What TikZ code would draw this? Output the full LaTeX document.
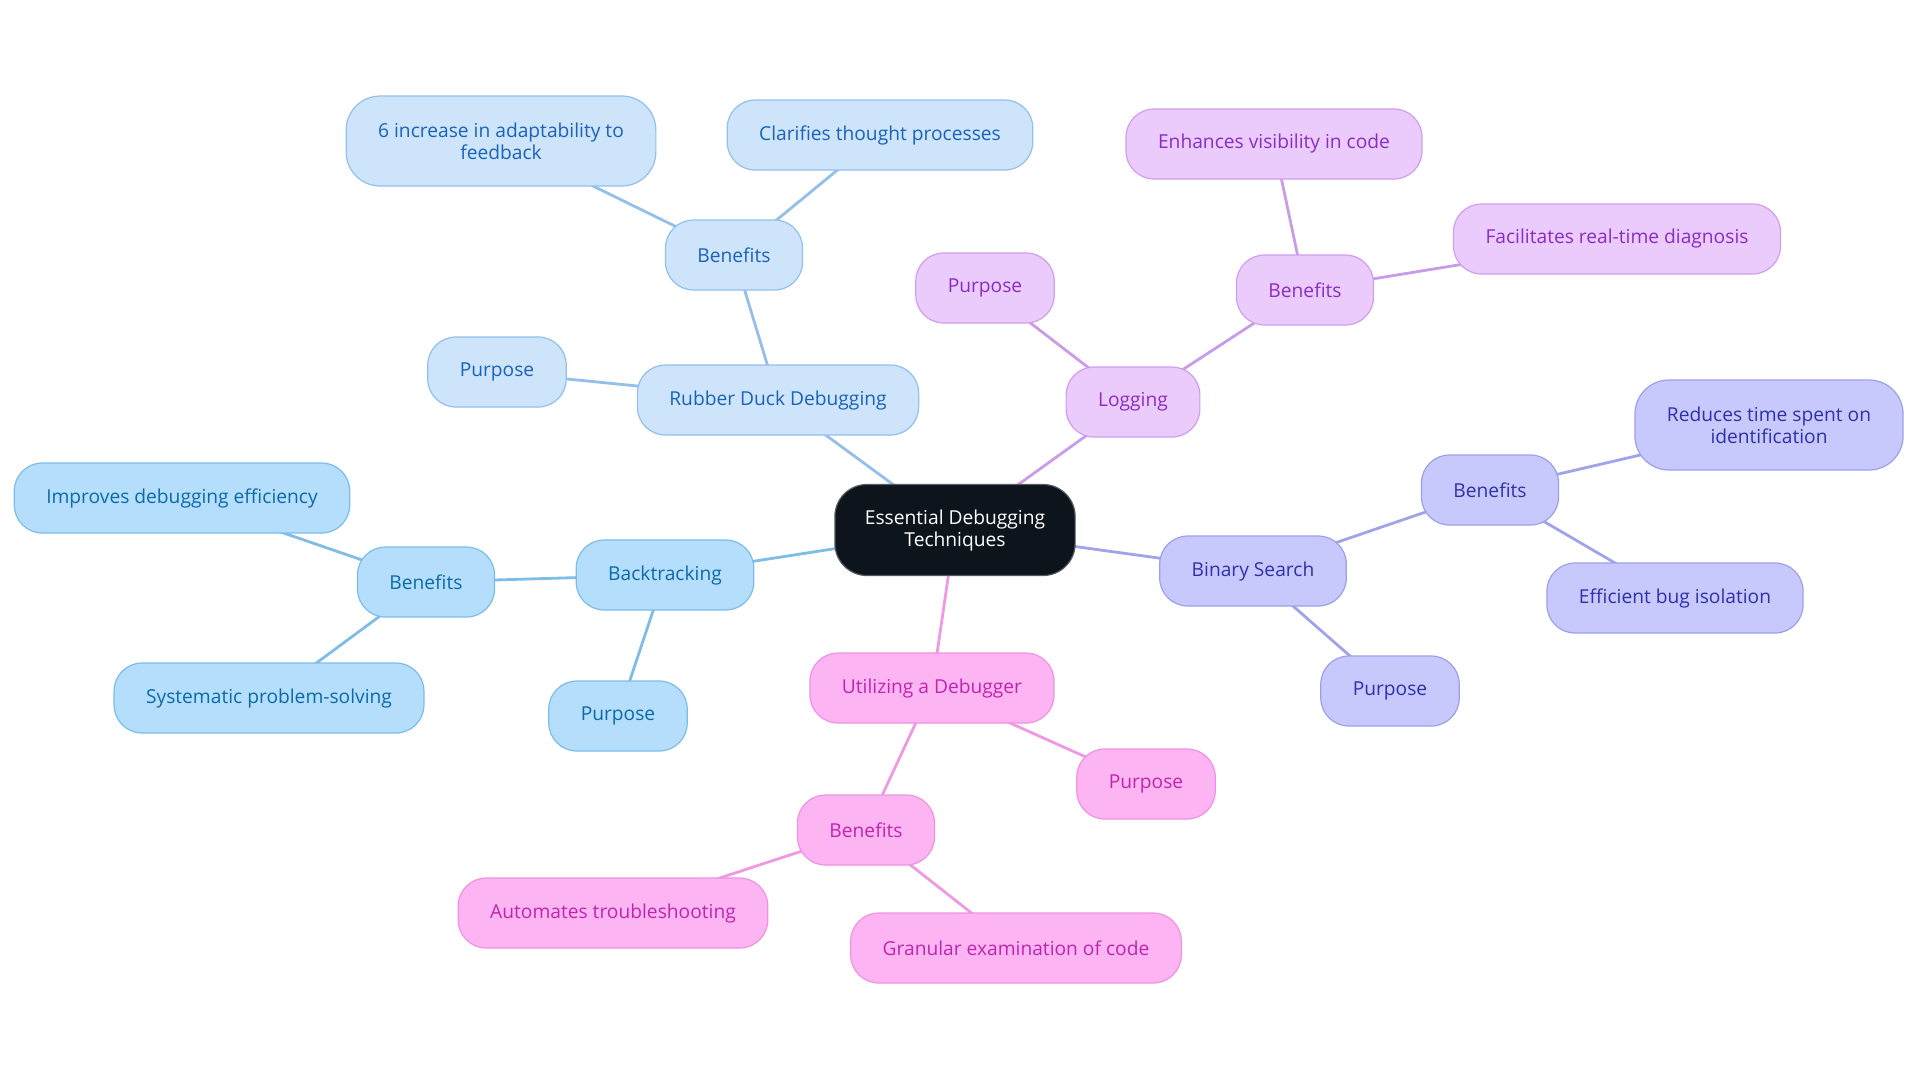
\documentclass[tikz,border=0pt]{standalone}
\usepackage{fontspec}
\setmainfont{Open Sans}
\usetikzlibrary{backgrounds}
\definecolor{rdfill}{HTML}{CDE4FB}
\definecolor{rddraw}{HTML}{91C0EE}
\definecolor{rdtext}{HTML}{1A63B8}
\definecolor{rdline}{HTML}{93BFE9}
\definecolor{btfill}{HTML}{B4DEFC}
\definecolor{btdraw}{HTML}{7BBDEA}
\definecolor{bttext}{HTML}{0C6AA8}
\definecolor{btline}{HTML}{7FBCE6}
\definecolor{lgfill}{HTML}{EACBFC}
\definecolor{lgdraw}{HTML}{CF9EEE}
\definecolor{lgtext}{HTML}{8A2DC2}
\definecolor{lgline}{HTML}{CA9CE8}
\definecolor{bsfill}{HTML}{C7C9FC}
\definecolor{bsdraw}{HTML}{9CA0EA}
\definecolor{bstext}{HTML}{3030AA}
\definecolor{bsline}{HTML}{A0A3E8}
\definecolor{dbfill}{HTML}{FCB5F2}
\definecolor{dbdraw}{HTML}{EE93E1}
\definecolor{dbtext}{HTML}{C025AE}
\definecolor{dbline}{HTML}{EE99E2}
\definecolor{rootfill}{HTML}{0D141C}
\begin{document}
\begin{tikzpicture}[x=0.5pt,y=-0.5pt,
  box/.style={rounded corners=14pt, draw, line width=0.6pt, inner xsep=16pt, inner ysep=0pt,
    minimum height=35pt, align=center, font=\fontsize{9.6}{11}\selectfont},
  tall/.style={minimum height=45pt, rounded corners=17pt},
  rd/.style={box, fill=rdfill, draw=rddraw, text=rdtext},
  bt/.style={box, fill=btfill, draw=btdraw, text=bttext},
  lg/.style={box, fill=lgfill, draw=lgdraw, text=lgtext},
  bs/.style={box, fill=bsfill, draw=bsdraw, text=bstext},
  db/.style={box, fill=dbfill, draw=dbdraw, text=dbtext},
  root/.style={box, fill=rootfill, draw=rootfill!70!white, text=white, minimum height=45.5pt, rounded corners=16pt, inner xsep=15pt},
  edge/.style={line width=1.4pt}]
\useasboundingbox (0,0) rectangle (1920,1083);

\node[root] (root) at (955,530) {Essential Debugging\\Techniques};

\node[rd] (rdd) at (778,400) {Rubber Duck Debugging};
\node[rd] (rddp) at (497,372) {Purpose};
\node[rd] (rddb) at (734,255) {Benefits};
\node[rd, tall] (rddb1) at (501,141) {6 increase in adaptability to\\feedback};
\node[rd] (rddb2) at (880,135) {Clarifies thought processes};

\node[bt] (bt) at (665,575) {Backtracking};
\node[bt] (btb) at (426,582) {Benefits};
\node[bt] (btb1) at (182,498) {Improves debugging efficiency};
\node[bt] (btb2) at (269,698) {Systematic problem-solving};
\node[bt] (btp) at (618,716) {Purpose};

\node[lg] (lg) at (1133,402) {Logging};
\node[lg] (lgp) at (985,288) {Purpose};
\node[lg] (lgb) at (1305,290) {Benefits};
\node[lg] (lgb1) at (1274,144) {Enhances visibility in code};
\node[lg] (lgb2) at (1617,239) {Facilitates real-time diagnosis};

\node[bs] (bs) at (1253,571) {Binary Search};
\node[bs] (bsb) at (1490,490) {Benefits};
\node[bs, tall] (bsb1) at (1769,425) {Reduces time spent on\\identification};
\node[bs] (bsb2) at (1675,598) {Efficient bug isolation};
\node[bs] (bsp) at (1390,691) {Purpose};

\node[db] (db) at (932,688) {Utilizing a Debugger};
\node[db] (dbp) at (1146,784) {Purpose};
\node[db] (dbb) at (866,830) {Benefits};
\node[db] (dbb1) at (613,913) {Automates troubleshooting};
\node[db] (dbb2) at (1016,948) {Granular examination of code};

\begin{scope}[on background layer]
\draw[edge, rdline] (root.center) -- (rdd.center);
\draw[edge, rdline] (rdd.center) -- (rddp.center);
\draw[edge, rdline] (rdd.center) -- (rddb.center);
\draw[edge, rdline] (rddb.center) -- (rddb1.center);
\draw[edge, rdline] (rddb.center) -- (rddb2.center);
\draw[edge, btline] (root.center) -- (bt.center);
\draw[edge, btline] (bt.center) -- (btb.center);
\draw[edge, btline] (btb.center) -- (btb1.center);
\draw[edge, btline] (btb.center) -- (btb2.center);
\draw[edge, btline] (bt.center) -- (btp.center);
\draw[edge, lgline] (root.center) -- (lg.center);
\draw[edge, lgline] (lg.center) -- (lgp.center);
\draw[edge, lgline] (lg.center) -- (lgb.center);
\draw[edge, lgline] (lgb.center) -- (lgb1.center);
\draw[edge, lgline] (lgb.center) -- (lgb2.center);
\draw[edge, bsline] (root.center) -- (bs.center);
\draw[edge, bsline] (bs.center) -- (bsb.center);
\draw[edge, bsline] (bsb.center) -- (bsb1.center);
\draw[edge, bsline] (bsb.center) -- (bsb2.center);
\draw[edge, bsline] (bs.center) -- (bsp.center);
\draw[edge, dbline] (root.center) -- (db.center);
\draw[edge, dbline] (db.center) -- (dbp.center);
\draw[edge, dbline] (db.center) -- (dbb.center);
\draw[edge, dbline] (dbb.center) -- (dbb1.center);
\draw[edge, dbline] (dbb.center) -- (dbb2.center);
\end{scope}
\end{tikzpicture}
\end{document}
